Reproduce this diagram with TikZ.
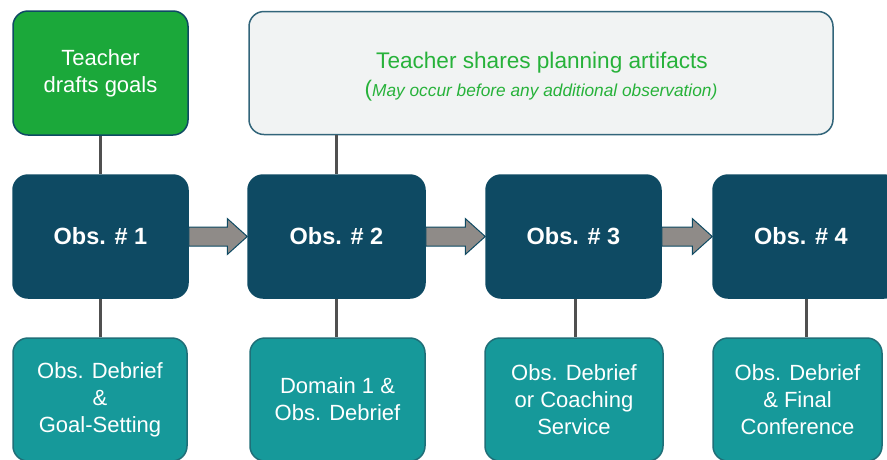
\documentclass[tikz,border=0pt]{standalone}
\usepackage{fontspec}
\setmainfont{Liberation Sans}
\usetikzlibrary{calc}
\definecolor{gbox}{HTML}{1BA83A}
\definecolor{dteal}{HTML}{0E4A63}
\definecolor{lteal}{HTML}{16999A}
\definecolor{bteal}{HTML}{1F6F78}
\definecolor{greyfill}{HTML}{F1F3F3}
\definecolor{greytxt}{HTML}{27B23A}
\definecolor{arrfill}{HTML}{8F8B88}
\definecolor{linec}{HTML}{505050}
\tikzset{
  box/.style={rectangle, rounded corners=15pt, inner sep=0pt, line width=1.5pt, align=center,
    font=\fontsize{22}{27}\selectfont},
  goalbox/.style={box, fill=gbox, draw=dteal, text=white},
  topbox/.style={box, fill=greyfill, draw=dteal!85},
  obsbox/.style={box, fill=dteal, draw=dteal, text=white, font=\fontsize{23.5}{27}\selectfont\bfseries},
  debbox/.style={box, fill=lteal, draw=bteal, text=white},
  conn/.style={draw=linec, line width=3pt},
  blockarrow/.style={fill=arrfill, draw=dteal, line width=1pt, line join=miter}
}
\begin{document}
\begin{tikzpicture}[x=1pt,y=-1pt]
\useasboundingbox[fill=white] (0,0) rectangle (887,459);
% top row
\node[goalbox, minimum width=175pt, minimum height=124pt] (g) at (100.5,73) {Teacher\\drafts goals};
\node[topbox, minimum width=584pt, minimum height=123pt] (t) at (541,73) {};
\node[text=greytxt, font=\fontsize{22.6}{27}\selectfont, anchor=base] (t1) at (542,68) {Teacher shares planning artifacts};
\node[text=greytxt, anchor=base] (t2) at (541,96) {\fontsize{22.5}{27}\selectfont(\fontsize{17.3}{20}\selectfont\itshape May occur before any additional observation)};
% obs row
\node[obsbox, minimum width=175pt, minimum height=123pt] (o1) at (100.5,236.5) {Obs. \# 1};
\node[obsbox, minimum width=177pt, minimum height=123pt] (o2) at (336.5,236.5) {Obs. \# 2};
\node[obsbox, minimum width=175pt, minimum height=123pt] (o3) at (573.5,236.5) {Obs. \# 3};
\node[obsbox, minimum width=186pt, minimum height=123pt] (o4) at (806,236.5) {\hspace*{-10pt}Obs. \# 4};
% bottom row
\node[debbox, minimum width=174pt, minimum height=123pt] (b1) at (100,399.5) {Obs. Debrief\\\&\\Goal-Setting};
\node[debbox, minimum width=175pt, minimum height=123pt] (b2) at (337.5,399.5) {Domain 1 \&\\Obs. Debrief};
\node[debbox, minimum width=178pt, minimum height=123pt] (b3) at (574,399.5) {Obs. Debrief\\or Coaching\\Service};
\node[debbox, minimum width=169pt, minimum height=123pt] (b4) at (797.5,399.5) {Obs. Debrief\\\& Final\\Conference};
% connectors
\draw[conn] (g.south) -- (o1.north);
\draw[conn] (t.south -| o2.north) -- (o2.north);
\draw[conn] (o1.south) -- (b1.north -| o1.south);
\draw[conn] (o2.south) -- (b2.north -| o2.south);
\draw[conn] ($(o3.south)+(1.5,0)$) -- ($(b3.north -| o3.south)+(1.5,0)$);
\draw[conn] (o4.south) -- (b4.north -| o4.south);
% block arrows
\foreach \a/\b in {o1/o2, o2/o3, o3/o4}{
  \draw[blockarrow] let \p1=(\a.east), \p2=(\b.west) in
    (\x1,\y1+9.5pt) -- (\x2-20pt,\y1+9.5pt) -- (\x2-20pt,\y1+18pt) -- (\x2,\y1) --
    (\x2-20pt,\y1-18pt) -- (\x2-20pt,\y1-9.5pt) -- (\x1,\y1-9.5pt) -- cycle;
}
\end{tikzpicture}
\end{document}
